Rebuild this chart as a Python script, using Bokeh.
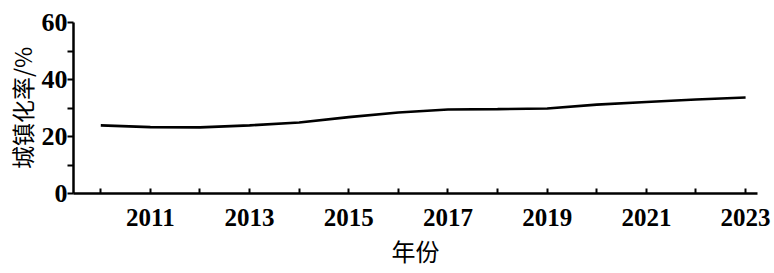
from bokeh.plotting import figure
from bokeh.models import FixedTicker, Range1d
from bokeh.embed import file_html
from bokeh.resources import INLINE

years = [2010, 2011, 2012, 2013, 2014, 2015, 2016, 2017, 2018, 2019, 2020, 2021, 2022, 2023]
rates = [23.9, 23.3, 23.2, 23.9, 24.9, 26.8, 28.4, 29.5, 29.6, 29.8, 31.2, 32.1, 33.0, 33.7]
label_years = [2011, 2013, 2015, 2017, 2019, 2021, 2023]
minor_years = [2010, 2012, 2014, 2016, 2018, 2020, 2022]
y_ticks = [0, 20, 40, 60]
y_minor = [10, 30, 50]

p = figure(width=774, height=273, output_backend="svg", toolbar_location=None,
           x_range=Range1d(2009.45, 2023.24), y_range=Range1d(0, 60),
           min_border_left=73, min_border_right=17, min_border_top=22, min_border_bottom=80)
p.outline_line_color = None
p.grid.visible = False
p.background_fill_color = "white"

p.line(years, rates, line_width=2.6, line_color="black")

ax = p.xaxis[0]
ax.ticker = FixedTicker(ticks=label_years, minor_ticks=minor_years)
ax.axis_line_width = 2.5
ax.axis_line_color = "black"
ax.major_tick_in = 5
ax.major_tick_out = 0
ax.minor_tick_in = 5
ax.minor_tick_out = 0
ax.major_tick_line_width = 2
ax.minor_tick_line_width = 2
ax.major_tick_line_color = "black"
ax.minor_tick_line_color = "black"
ax.major_label_standoff = 15
ax.major_label_text_font = "Liberation Serif"
ax.major_label_text_font_style = "bold"
ax.major_label_text_font_size = "25px"
ax.major_label_text_color = "black"
ax.axis_label = "年份"
ax.axis_label_text_font = "Noto Sans CJK SC"
ax.axis_label_text_font_style = "normal"
ax.axis_label_text_font_size = "24px"
ax.axis_label_text_color = "black"
ax.axis_label_standoff = 4

ay = p.yaxis[0]
ay.ticker = FixedTicker(ticks=y_ticks, minor_ticks=y_minor)
ay.axis_line_width = 2.5
ay.axis_line_color = "black"
ay.major_tick_in = 0
ay.major_tick_out = 6
ay.minor_tick_in = 0
ay.minor_tick_out = 6
ay.major_tick_line_width = 2
ay.minor_tick_line_width = 2
ay.major_tick_line_color = "black"
ay.minor_tick_line_color = "black"
ay.major_label_standoff = 0
ay.major_label_text_font = "Liberation Serif"
ay.major_label_text_font_style = "bold"
ay.major_label_text_font_size = "26px"
ay.major_label_text_color = "black"
ay.axis_label = "城镇化率/%"
ay.axis_label_text_font = "Noto Sans CJK SC"
ay.axis_label_text_font_style = "normal"
ay.axis_label_text_font_size = "23px"
ay.axis_label_text_color = "black"
ay.axis_label_standoff = 0

open("out.html", "w").write(file_html(p, INLINE))
